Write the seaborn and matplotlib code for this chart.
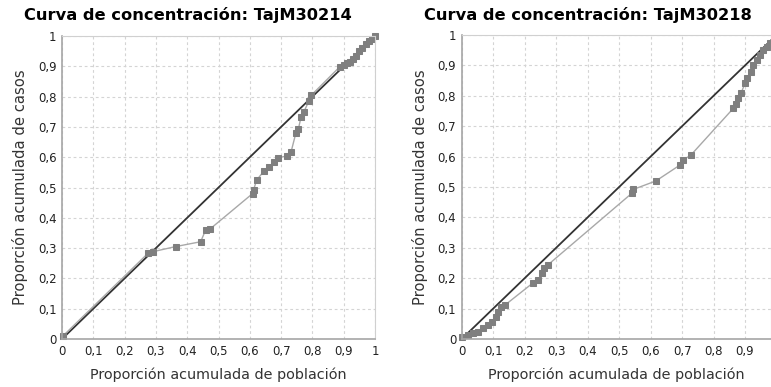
import matplotlib
matplotlib.use("Agg")
import matplotlib.pyplot as plt
import seaborn as sns

# Curve data: cumulative population share (x) vs cumulative case share (y)
left_x = [0.004, 0.275, 0.29, 0.363, 0.443, 0.459, 0.473, 0.609, 0.612, 0.622, 0.646,
          0.662, 0.678, 0.691, 0.718, 0.732, 0.747, 0.755, 0.764, 0.773, 0.789, 0.797,
          0.888, 0.9, 0.91, 0.92, 0.93, 0.94, 0.95, 0.96, 0.97, 0.98, 0.99, 1.0]
left_y = [0.011, 0.283, 0.288, 0.305, 0.321, 0.36, 0.363, 0.48, 0.492, 0.525, 0.555,
          0.569, 0.585, 0.598, 0.604, 0.618, 0.679, 0.692, 0.734, 0.75, 0.786, 0.805,
          0.899, 0.905, 0.91, 0.915, 0.925, 0.935, 0.95, 0.96, 0.975, 0.985, 0.99, 1.0]

right_x = [0.0, 0.021, 0.037, 0.053, 0.069, 0.085, 0.097, 0.108, 0.114, 0.125, 0.138,
           0.227, 0.243, 0.254, 0.262, 0.273, 0.54, 0.545, 0.617, 0.693, 0.704, 0.728,
           0.863, 0.871, 0.879, 0.887, 0.9, 0.907, 0.918, 0.926, 0.937, 0.948, 0.958,
           0.969, 0.98, 1.0]
right_y = [0.008, 0.013, 0.019, 0.024, 0.035, 0.046, 0.057, 0.073, 0.09, 0.106, 0.112,
           0.185, 0.194, 0.216, 0.232, 0.243, 0.479, 0.492, 0.52, 0.572, 0.589, 0.605,
           0.759, 0.773, 0.792, 0.808, 0.841, 0.858, 0.879, 0.901, 0.918, 0.934, 0.951,
           0.962, 0.973, 1.0]

diag = [0, 1]
ticks = [i / 10 for i in range(11)]
tick_labels = ["0", "0,1", "0,2", "0,3", "0,4", "0,5", "0,6", "0,7", "0,8", "0,9", "1"]

titles = ["Curva de concentración: TajM30214", "Curva de concentración: TajM30218"]
xlabel = "Proporción acumulada de población"
ylabel = "Proporción acumulada de casos"

sns.set_style("white")
plt.rcParams['font.family'] = ['DejaVu Sans']

fig = plt.figure(figsize=(7.71, 3.87), dpi=100)
ax_left = fig.add_axes([62 / 771, 48 / 387, 313 / 771, 303 / 387])
ax_right = fig.add_axes([461.7 / 771, 48 / 387, 309.3 / 771, 304 / 387])


def style_axes(ax, xmax):
    ax.set_xlim(0, xmax)
    ax.set_ylim(0, 1)
    ax.set_xticks([t for t in ticks if t <= xmax + 1e-9])
    ax.set_xticklabels(tick_labels[:len(ax.get_xticks())], fontsize=8.5)
    ax.set_yticks(ticks)
    ax.set_yticklabels(tick_labels, fontsize=8.5)
    ax.grid(True, color="#d4d4d4", linestyle=(0, (2.5, 2.5)), linewidth=0.8)
    ax.set_axisbelow(True)
    for side in ["left", "bottom"]:
        ax.spines[side].set_color("#a6a6a6")
        ax.spines[side].set_linewidth(1.2)
    for side in ["top", "right"]:
        ax.spines[side].set_color("#d0d0d0")
        ax.spines[side].set_linewidth(0.8)
    ax.tick_params(axis="both", length=2, width=0.8, color="#a6a6a6", pad=2,
                   labelcolor="#222222")
    ax.set_xlabel(xlabel, fontsize=10.4, color="#333333", labelpad=7)
    ax.set_ylabel(ylabel, fontsize=10.6, color="#333333", labelpad=7)


for ax, xs, ys, xmax in [(ax_left, left_x, left_y, 1.0),
                         (ax_right, right_x, right_y, 0.9825)]:
    style_axes(ax, xmax)
    sns.lineplot(x=diag, y=diag, ax=ax, color="#333333", linewidth=1.3)
    sns.lineplot(x=xs, y=ys, ax=ax, sort=False, color="#a8a8a8", linewidth=1.0,
                 marker="s", markersize=4.5, markerfacecolor="#7f7f7f",
                 markeredgecolor="#7f7f7f", clip_on=False)

fig.text(188 / 771, 1 - 15 / 387, titles[0], ha="center", va="center",
         fontsize=11.7, fontweight="bold", color="#000000")
fig.text(588 / 771, 1 - 15 / 387, titles[1], ha="center", va="center",
         fontsize=11.7, fontweight="bold", color="#000000")

fig.savefig("out.png", dpi=100, facecolor="white")
